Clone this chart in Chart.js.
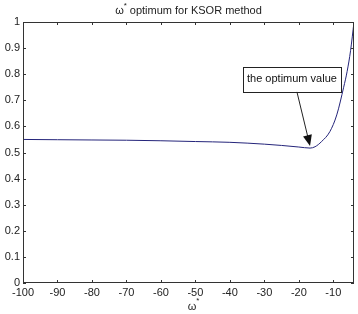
<!DOCTYPE html>
<html>
<head>
<meta charset="utf-8">
<script src="https://cdn.jsdelivr.net/npm/chart.js@4"></script>
<style>
  html, body { margin: 0; padding: 0; background: #fff; }
  #wrap { width: 358px; height: 314px; }
</style>
</head>
<body>
<div id="wrap"><canvas id="grafica" width="358" height="314"></canvas></div>
<script>
// omega values (x) and optimum value (y)
const omegaValues = [-100, -90, -80, -70, -60, -50, -40, -30, -25, -20, -16.75, -15.3, -13.4, -11, -9, -7, -6, -5, -4];
const optValues = [0.550, 0.549, 0.548, 0.547, 0.545, 0.542, 0.539, 0.532, 0.527, 0.521, 0.517, 0.522, 0.542, 0.580, 0.644, 0.750, 0.810, 0.890, 1.0];
const xTicks = [-100, -90, -80, -70, -60, -50, -40, -30, -20, -10];
const yTicks = [0, 0.1, 0.2, 0.3, 0.4, 0.5, 0.6, 0.7, 0.8, 0.9, 1];

const tituloGrafica = "optimum for KSOR method";
const textoNota = "the optimum value";
// where the note box sits and where the arrow points, in data units
const notaCentro = { x: -22, y: 0.78 };
const notaPunta = { x: -16.75, y: 0.517 };

const fuente = "Liberation Sans, Arial, sans-serif";

// marco, marcas hacia dentro, titulo, etiqueta del eje x y la nota con flecha
const extras = {
  id: "extras",
  afterDraw(chart) {
    const ctx = chart.ctx;
    const a = chart.chartArea;
    const sx = chart.scales.x;
    const sy = chart.scales.y;
    ctx.save();
    ctx.strokeStyle = "#333";
    ctx.lineWidth = 1;
    ctx.strokeRect(a.left + 0.5, a.top + 0.5, a.right - a.left - 1, a.bottom - a.top - 1);
    ctx.beginPath();
    xTicks.forEach(v => {
      const px = Math.round(sx.getPixelForValue(v)) + 0.5;
      ctx.moveTo(px, a.bottom); ctx.lineTo(px, a.bottom - 3);
      ctx.moveTo(px, a.top); ctx.lineTo(px, a.top + 3);
    });
    yTicks.forEach(v => {
      const py = Math.round(sy.getPixelForValue(v)) + 0.5;
      ctx.moveTo(a.left, py); ctx.lineTo(a.left + 3, py);
      ctx.moveTo(a.right, py); ctx.lineTo(a.right - 3, py);
    });
    ctx.stroke();

    // titulo
    ctx.fillStyle = "#222";
    ctx.font = "11px " + fuente;
    ctx.textBaseline = "middle";
    const w1 = ctx.measureText("ω").width;
    const w2 = ctx.measureText(tituloGrafica).width;
    const tot = w1 + 6 + w2;
    const cx = (a.left + a.right) / 2;
    let x0 = cx - tot / 2;
    ctx.textAlign = "left";
    ctx.fillText("ω", x0, 11);
    ctx.font = "8px " + fuente;
    ctx.fillText("*", x0 + w1, 6);
    ctx.font = "11px " + fuente;
    ctx.fillText(tituloGrafica, x0 + w1 + 6, 11);

    // etiqueta eje x
    const xl = sx.getPixelForValue(-51) - w1 / 2;
    ctx.fillText("ω", xl, 307);
    ctx.font = "8px " + fuente;
    ctx.fillText("*", xl + w1, 301);

    // nota
    ctx.font = "11px " + fuente;
    const bx = sx.getPixelForValue(notaCentro.x);
    const by = sy.getPixelForValue(notaCentro.y);
    const tw = ctx.measureText(textoNota).width;
    const bw = tw + 8, bh = 25;
    ctx.fillStyle = "#fff";
    ctx.fillRect(bx - bw / 2, by - bh / 2, bw, bh);
    ctx.strokeStyle = "#222";
    ctx.strokeRect(Math.round(bx - bw / 2) + 0.5, Math.round(by - bh / 2) + 0.5, Math.round(bw), bh);
    ctx.fillStyle = "#111";
    ctx.textAlign = "center";
    ctx.fillText(textoNota, bx, by);

    // flecha
    const ax = bx + 5, ay = by + bh / 2;
    const tx = sx.getPixelForValue(notaPunta.x), ty = sy.getPixelForValue(notaPunta.y) - 2;
    const ang = Math.atan2(ty - ay, tx - ax);
    ctx.beginPath();
    ctx.moveTo(ax, ay);
    ctx.lineTo(tx - 8 * Math.cos(ang), ty - 8 * Math.sin(ang));
    ctx.stroke();
    ctx.beginPath();
    ctx.moveTo(tx, ty);
    ctx.lineTo(tx - 11 * Math.cos(ang) + 4.5 * Math.sin(ang), ty - 11 * Math.sin(ang) - 4.5 * Math.cos(ang));
    ctx.lineTo(tx - 11 * Math.cos(ang) - 4.5 * Math.sin(ang), ty - 11 * Math.sin(ang) + 4.5 * Math.cos(ang));
    ctx.closePath();
    ctx.fillStyle = "#111";
    ctx.fill();
    ctx.restore();
  }
};

function mostrarGrafica() {
  const puntos = omegaValues.map((x, i) => ({ x: x, y: optValues[i] }));
  new Chart("grafica", {
    type: "line",
    data: {
      datasets: [
        {
          data: puntos,
          borderColor: "#24247a",
          borderWidth: 1,
          pointRadius: 0,
          cubicInterpolationMode: "monotone",
          fill: false
        }
      ]
    },
    options: {
      responsive: false,
      animation: false,
      layout: { padding: { top: 22, right: 4, left: 0, bottom: 0 } },
      plugins: { legend: { display: false }, tooltip: { enabled: false } },
      scales: {
        x: {
          type: "linear",
          min: -100,
          max: -4,
          grid: { display: false, drawTicks: false, tickLength: 0 },
          border: { display: false },
          afterBuildTicks: s => { s.ticks = xTicks.map(v => ({ value: v })); },
          afterFit: s => { s.height = 31; },
          ticks: { color: "#222", font: { family: fuente, size: 11 }, padding: 3, maxRotation: 0, autoSkip: false }
        },
        y: {
          min: 0,
          max: 1,
          grid: { display: false, drawTicks: false, tickLength: 0 },
          border: { display: false },
          afterBuildTicks: s => { s.ticks = yTicks.map(v => ({ value: v })); },
          afterFit: s => { s.width = 23; },
          ticks: { color: "#222", font: { family: fuente, size: 11 }, padding: 3, autoSkip: false, callback: v => String(v) }
        }
      }
    },
    plugins: [extras]
  });
}

mostrarGrafica()
</script>
</body>
</html>
